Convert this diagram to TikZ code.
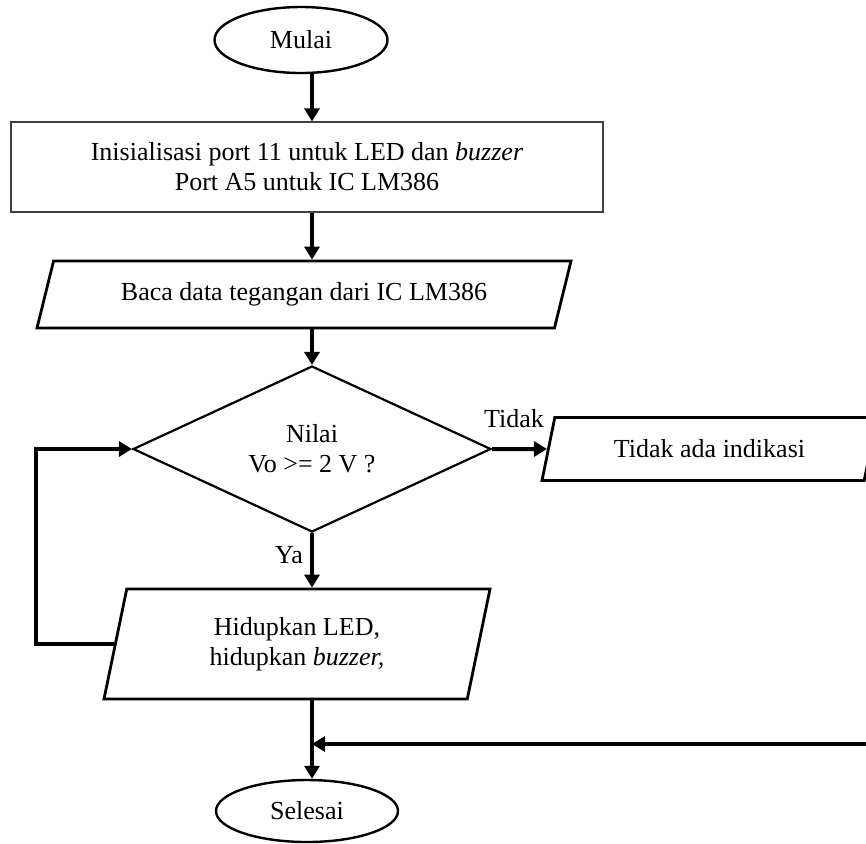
\documentclass[tikz,border=0pt]{standalone}
\usepackage{fontspec}
\setmainfont{Liberation Serif}
\usetikzlibrary{shapes.geometric,arrows.meta,positioning}

\begin{document}
\begin{tikzpicture}[x=0.5pt, y=-0.5pt,
    every node/.style={font=\fontsize{13}{15}\selectfont},
    terminal/.style={ellipse, draw, line width=1.2pt, inner sep=0pt},
    proses/.style={rectangle, draw=black!75, line width=0.6pt, align=center},
    io/.style={trapezium, trapezium left angle=55, trapezium right angle=125, draw, line width=1.4pt, trapezium stretches body, inner sep=0pt, align=center},
    cabang/.style={diamond, draw, line width=1.1pt, aspect=2.15, inner sep=0pt, align=center},
    panah/.style={line width=2pt, -{Triangle[length=6.5pt,width=7.5pt]}}]
    \useasboundingbox (0,0) rectangle (866,843);

    \node[terminal, minimum width=86.5pt, minimum height=33pt] (mulai) at (301,40) {Mulai};
    \node[proses, minimum width=296pt, minimum height=45pt] (init) at (307,167) {Inisialisasi port 11 untuk LED dan \textit{buzzer}\\Port A5 untuk IC LM386};
    \node[io, minimum width=267pt, minimum height=33.5pt] (baca) at (304,294.5) {Baca data tegangan dari IC LM386};
    \node[cabang, minimum width=179pt, minimum height=83pt] (cek) at (312,449) {Nilai\\Vo >= 2 V ?};
    \node[io, minimum width=167.5pt, minimum height=31.5pt] (tidak) at (709.5,449) {Tidak ada indikasi};
    \node[io, trapezium left angle=67, trapezium right angle=113, minimum width=193pt, minimum height=55pt] (hidup) at (297,644) {Hidupkan LED,\\hidupkan \textit{buzzer,}};
    \node[terminal, minimum width=91pt, minimum height=31pt] (selesai) at (307,811) {Selesai};

    \node (lbltidak) at (514,419) {Tidak};
    \node (lblya) at (289,555) {Ya};
    \coordinate (kanan) at (870,744);

    \draw[panah] (mulai.south -| cek) -- (init.north -| cek);
    \draw[panah] (init.south -| cek) -- (baca.north -| cek);
    \draw[panah] (baca.south -| cek) -- (cek.north);
    \draw[panah] (cek.east) -- (tidak.west);
    \draw[panah] (cek.south) -- (hidup.north -| cek);
    \draw[panah] (hidup.west) -- ++(-78,0) |- (cek.west);
    \draw[panah] (hidup.south -| cek) -- (selesai.north -| cek);
    \draw[panah] (kanan) -- (kanan -| cek);
\end{tikzpicture}
\end{document}
